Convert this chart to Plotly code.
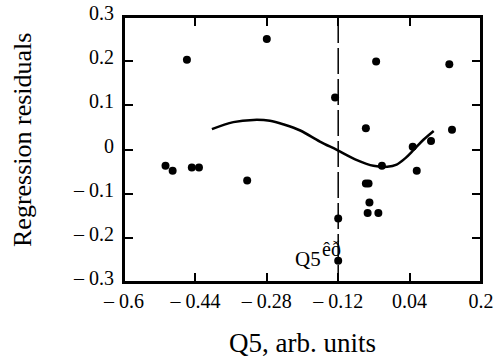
import plotly.graph_objects as go

# scatter data (residuals)
pts_x = [-0.459, -0.280, -0.127, -0.035, 0.129, -0.058, 0.135, -0.507, -0.491,
         -0.448, -0.432, -0.324, 0.047, 0.088, -0.022, 0.056, -0.058, -0.052,
         -0.050, -0.054, -0.030, -0.120, -0.120]
pts_y = [0.203, 0.250, 0.118, 0.199, 0.193, 0.048, 0.045, -0.037, -0.048,
         -0.041, -0.041, -0.070, 0.006, 0.019, -0.037, -0.048, -0.077, -0.077,
         -0.120, -0.144, -0.144, -0.156, -0.252]

# fitted curve
curve_x = [-0.403, -0.355, -0.310, -0.273, -0.240, -0.205, -0.161, -0.123, -0.078,
           -0.041, -0.010, 0.011, 0.030, 0.049, 0.071, 0.094]
curve_y = [0.046, 0.062, 0.067, 0.065, 0.056, 0.043, 0.018, -0.001, -0.024,
           -0.037, -0.039, -0.034, -0.020, -0.001, 0.022, 0.042]

x_range = [-0.6, 0.2]
y_range = [-0.3, 0.3]
x_ticks = [-0.6, -0.44, -0.28, -0.12, 0.04, 0.2]
x_tick_labels = ["– 0.6", "– 0.44", "– 0.28", "– 0.12", "0.04", "0.2"]
y_ticks = [-0.3, -0.2, -0.1, 0, 0.1, 0.2, 0.3]
y_tick_labels = ["– 0.3", "– 0.2", "– 0.1", "0", "0.1", "0.2", "0.3"]

q5_pos = -0.12

FONT = "Liberation Serif"

W, H = 497, 356
ML, MR, MT, MB = 124, 16, 17, 74

fig = go.Figure()
# plot frame drawn along the axis range
fx = [x_range[0], x_range[1], x_range[1], x_range[0], x_range[0]]
fy = [y_range[0], y_range[0], y_range[1], y_range[1], y_range[0]]
fig.add_trace(go.Scatter(x=fx, y=fy, mode="lines", cliponaxis=False,
                         line=dict(color="black", width=2),
                         hoverinfo="skip", showlegend=False))
# dashed vertical line at Q5 critical value
fig.add_trace(go.Scatter(x=[q5_pos, q5_pos], y=y_range[::-1], mode="lines",
                         line=dict(color="black", width=1.5, dash="26px,5px"),
                         hoverinfo="skip", showlegend=False))
fig.add_trace(go.Scatter(x=curve_x, y=curve_y, mode="lines",
                         line=dict(color="black", width=2.5, shape="spline"),
                         showlegend=False))
fig.add_trace(go.Scatter(x=pts_x, y=pts_y, mode="markers",
                         marker=dict(color="black", size=8),
                         showlegend=False))

# Q5 critical-value label with raised suffix
fig.add_annotation(x=-0.156, y=-0.248, xref="x", yref="y",
                   text="Q5", showarrow=False,
                   xanchor="right", yanchor="middle", xshift=1,
                   font=dict(family=FONT, size=21, color="black"))
fig.add_annotation(x=-0.156, y=-0.226, xref="x", yref="y",
                   text="êð", showarrow=False,
                   xanchor="left", yanchor="middle", xshift=-2,
                   font=dict(family=FONT, size=20, color="black"))

# axis titles (positions given in page pixels, converted below)
title_specs = [
    dict(px=302, py=343, text="Q5, arb. units", size=27, angle=0),
    dict(px=22, py=140, text="Regression residuals", size=26, angle=-90),
]
pw, ph = W - ML - MR, H - MT - MB
for s in title_specs:
    fig.add_annotation(x=(s["px"] - ML) / pw, y=(H - MB - s["py"]) / ph,
                       xref="paper", yref="paper", text=s["text"], showarrow=False,
                       textangle=s["angle"], xanchor="center", yanchor="middle",
                       font=dict(family=FONT, size=s["size"], color="black"))

axis_common = dict(showgrid=False, zeroline=False, showline=True, linecolor="black",
                   linewidth=2, mirror="ticks", ticks="inside", ticklen=9,
                   tickwidth=1.5, tickcolor="black", automargin=False,
                   ticklabeloverflow="allow",
                   tickfont=dict(family=FONT, size=20, color="black"))

fig.update_layout(
    width=W, height=H,
    margin=dict(l=ML, r=MR, t=MT, b=MB),
    paper_bgcolor="white", plot_bgcolor="white",
    xaxis=dict(range=x_range, tickvals=x_ticks, ticktext=x_tick_labels,
               ticklabelstandoff=0, **axis_common),
    yaxis=dict(range=y_range, tickvals=y_ticks, ticktext=y_tick_labels,
               ticklabelshift=-4, ticklabelstandoff=4, **axis_common),
)

# remove the browser's default page margin so the figure sits at the top-left corner
fig.write_html("out.html", config={"displayModeBar": False},
               post_script="document.body.style.margin='0';document.body.style.overflow='hidden';")
